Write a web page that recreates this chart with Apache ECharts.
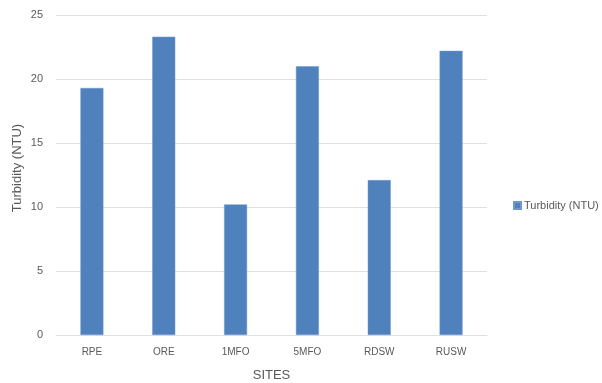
<!DOCTYPE html>
<html>
<head>
<meta charset="utf-8">
<script src="https://cdn.jsdelivr.net/npm/echarts@6/dist/echarts.min.js"></script>
<style>
  html, body { margin: 0; padding: 0; background: #fff; }
  #chart { width: 602px; height: 383px; }
</style>
</head>
<body>
<div id="chart"></div>
<script>
// Turbidity readings per sampling site
const sites = ['RPE', 'ORE', '1MFO', '5MFO', 'RDSW', 'RUSW'];
const turbidity = [19.3, 23.3, 10.2, 21.0, 12.1, 22.2];
const seriesName = 'Turbidity (NTU)';

const labelColor = '#595959';
const gridColor = '#e0e0e0';
const fontFamily = '"Liberation Sans", "DejaVu Sans", sans-serif';

const chart = echarts.init(document.getElementById('chart'), null, { renderer: 'canvas' });
chart.setOption({
  animation: false,
  backgroundColor: '#ffffff',
  textStyle: { fontFamily: fontFamily },
  grid: { left: 56, right: 115, top: 15, bottom: 48, containLabel: false, outerBoundsMode: 'none' },
  legend: {
    data: [seriesName],
    left: 508,
    top: 195,
    orient: 'vertical',
    itemWidth: 7,
    itemHeight: 7,
    itemGap: 4,
    icon: 'rect',
    textStyle: { color: labelColor, fontSize: 11, fontFamily: fontFamily, padding: [0, 0, 0, -2] }
  },
  xAxis: {
    type: 'category',
    data: sites,
    name: 'SITES',
    nameLocation: 'middle',
    nameGap: 34,
    nameMoveOverlap: false,
    nameTextStyle: { color: labelColor, fontSize: 13, fontFamily: fontFamily },
    axisLine: { show: true, lineStyle: { color: gridColor, width: 1 } },
    axisTick: { show: false },
    axisLabel: { color: labelColor, fontSize: 10, margin: 12, fontFamily: fontFamily }
  },
  yAxis: {
    type: 'value',
    min: 0,
    max: 25,
    interval: 5,
    name: seriesName,
    nameLocation: 'middle',
    nameGap: 32,
    nameMoveOverlap: false,
    nameTextStyle: { color: labelColor, fontSize: 13, fontFamily: fontFamily, padding: [0, 0, 0, 14] },
    axisLine: { show: false },
    axisTick: { show: false },
    axisLabel: { color: labelColor, fontSize: 11, margin: 13, fontFamily: fontFamily },
    splitLine: { lineStyle: { color: gridColor, width: 1 } }
  },
  series: [{
    name: seriesName,
    type: 'bar',
    data: turbidity,
    barWidth: '32%',
    itemStyle: { color: '#4f81bd', borderColor: '#6f98cc', borderWidth: 0.5 }
  }]
});
</script>
</body>
</html>
